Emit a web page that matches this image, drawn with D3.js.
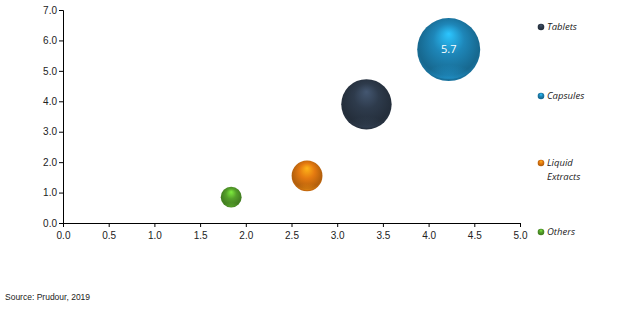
<!DOCTYPE html>
<html>
<head>
<meta charset="utf-8">
<script src="https://cdn.jsdelivr.net/npm/d3@7"></script>
<style>
  body { margin: 0; background: #fff; }
  svg { display: block; }
</style>
</head>
<body>
<div id="chart"></div>
<script>
const segments = ["Tablets", "Capsules", "Liquid Extracts", "Others"];
const xValues = [3.32, 4.22, 2.67, 1.84];
const yValues = [3.9, 5.7, 1.55, 0.85];
const sizeValues = [64, 100, 24, 11];
const colors = ["#2e3b4c", "#1e86b8", "#e57a10", "#55a02a"];
const xTicks = [0, 0.5, 1, 1.5, 2, 2.5, 3, 3.5, 4, 4.5, 5];
const yTicks = [0, 1, 2, 3, 4, 5, 6, 7];

const width = 619, height = 309;
const margin = {top: 10, right: 99, bottom: 86, left: 63};

const data = segments.map((s, i) => ({
  name: s, x: xValues[i], y: yValues[i], size: sizeValues[i], color: colors[i]
}));

const svg = d3.select("#chart").append("svg")
    .attr("width", width)
    .attr("height", height)
    .attr("font-family", "'Open Sans', 'DejaVu Sans', sans-serif");

const x = d3.scaleLinear().domain([0, 5]).range([margin.left, width - margin.right]);
const y = d3.scaleLinear().domain([0, 7]).range([height - margin.bottom, margin.top]);
const r = d3.scaleSqrt().domain([0, d3.max(sizeValues)]).range([0, 31.5]);

// sphere-ish gradients
const defs = svg.append("defs");
data.forEach((d, i) => {
  const c = d3.color(d.color);
  const g = defs.append("radialGradient")
      .attr("id", "ball" + i)
      .attr("cx", "50%").attr("cy", "45%").attr("r", "55%")
      .attr("fx", "50%").attr("fy", "25%");
  g.append("stop").attr("offset", "0%").attr("stop-color", c.brighter(1.1));
  g.append("stop").attr("offset", "45%").attr("stop-color", c);
  g.append("stop").attr("offset", "88%").attr("stop-color", c.darker(0.7));
  g.append("stop").attr("offset", "100%").attr("stop-color", c.darker(0.4));

  const s = defs.append("radialGradient")
      .attr("id", "shine" + i)
      .attr("cx", "50%").attr("cy", "100%").attr("r", "60%");
  s.append("stop").attr("offset", "0%").attr("stop-color", c.brighter(0.8)).attr("stop-opacity", 0.9);
  s.append("stop").attr("offset", "100%").attr("stop-color", c.brighter(0.8)).attr("stop-opacity", 0);
});

// axes
svg.append("g")
    .attr("transform", `translate(0,${y(0)})`)
    .call(d3.axisBottom(x).tickValues(xTicks).tickFormat(d3.format(".1f")).tickSize(4).tickSizeOuter(4))
    .call(g => g.selectAll("text").attr("font-size", 10).attr("fill", "#222").attr("dy", "0.9em"))
    .call(g => g.selectAll("line, path").attr("stroke", "#000"));

svg.append("g")
    .attr("transform", `translate(${x(0)},0)`)
    .call(d3.axisLeft(y).tickValues(yTicks).tickFormat(d3.format(".1f")).tickSize(4).tickSizeOuter(4))
    .call(g => g.selectAll("text").attr("font-size", 10).attr("fill", "#222").attr("x", -6))
    .call(g => g.selectAll("line, path").attr("stroke", "#000"));

// bubbles
const bubbles = svg.append("g")
  .selectAll("g")
  .data(data.slice().sort((a, b) => b.size - a.size))
  .join("g")
    .attr("transform", d => `translate(${x(d.x)},${y(d.y)})`);

bubbles.append("circle")
    .attr("r", d => r(d.size))
    .attr("fill", d => `url(#ball${segments.indexOf(d.name)})`);

bubbles.append("ellipse")
    .attr("cy", d => r(d.size) * 0.55)
    .attr("rx", d => r(d.size) * 0.7)
    .attr("ry", d => r(d.size) * 0.38)
    .attr("fill", d => `url(#shine${segments.indexOf(d.name)})`)
    .attr("opacity", 0.5);

// value label on the largest bubble
const labelled = data.find(d => d.name === "Capsules");
svg.append("text")
    .attr("x", x(labelled.x))
    .attr("y", y(labelled.y))
    .attr("dy", "0.35em")
    .attr("text-anchor", "middle")
    .attr("font-size", 11)
    .attr("fill", "#fff")
    .text(d3.format(".1f")(labelled.y));

// legend
const legendY = [27, 96, 163, 232];
const legend = svg.append("g")
  .selectAll("g")
  .data(data)
  .join("g")
    .attr("transform", (d, i) => `translate(541,${legendY[i]})`);

legend.append("circle")
    .attr("r", 3.3)
    .attr("fill", (d, i) => `url(#ball${i})`);

legend.append("text")
    .attr("x", 6)
    .attr("font-size", 9.5)
    .attr("font-style", "italic")
    .attr("fill", "#222")
    .selectAll("tspan")
    .data(d => d.name === "Liquid Extracts" ? ["Liquid", "Extracts"] : [d.name])
    .join("tspan")
      .attr("x", 6)
      .attr("dy", (t, j) => j === 0 ? "0.35em" : "1.4em")
      .text(t => t);

svg.append("text")
    .attr("x", 5)
    .attr("y", 300)
    .attr("font-family", "'Liberation Sans', Arial, sans-serif")
    .attr("font-size", 8.5)
    .attr("fill", "#222")
    .text("Source: Prudour, 2019");
</script>
</body>
</html>
